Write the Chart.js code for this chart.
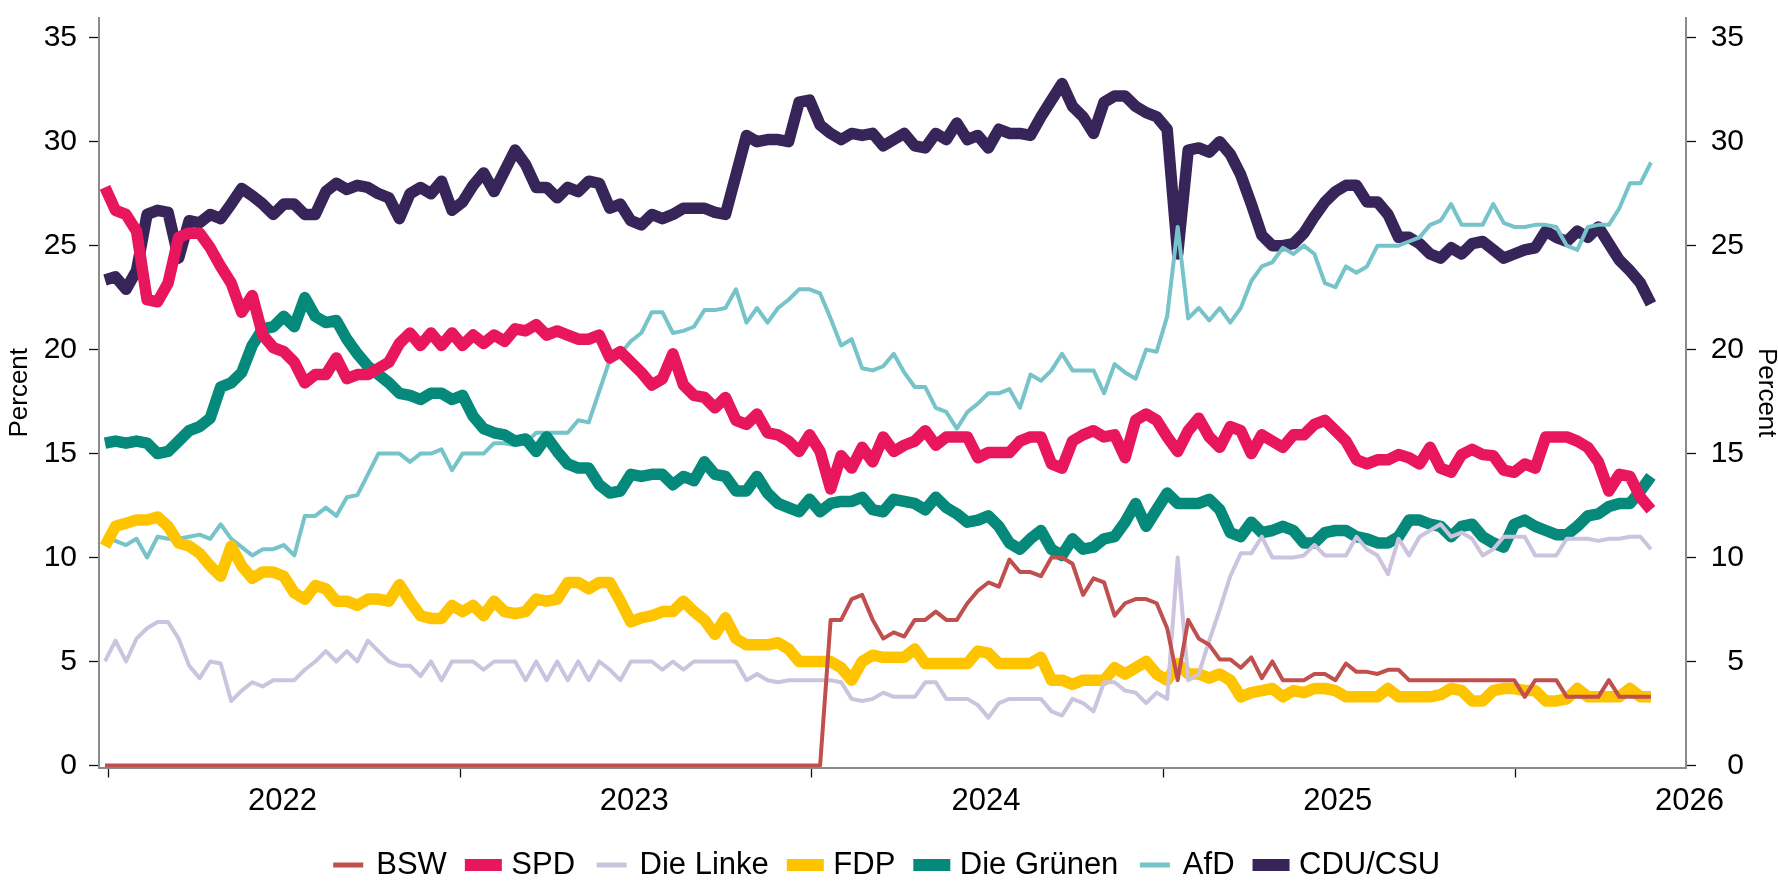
<!DOCTYPE html>
<html>
<head>
<meta charset="utf-8">
<script src="https://cdn.jsdelivr.net/npm/chart.js@4.4.1/dist/chart.umd.min.js"></script>
<style>
html,body{margin:0;padding:0;background:#ffffff;}
canvas{display:block;}
</style>
</head>
<body>
<canvas id="chart" width="1778" height="881"></canvas>
<script>
const startYear = 2021.99;
const stepYears = 0.0299;
const yearTicks = [2022, 2023, 2024, 2025, 2026];
const percentTicks = [0, 5, 10, 15, 20, 25, 30, 35];
const seriesNames = ['BSW', 'SPD', 'Die Linke', 'FDP', 'Die Grünen', 'AfD', 'CDU/CSU'];

const bsw = [
 0,0,0,0,0,0,0,0,0,0,0,0,0,0,0,0,0,0,0,0,0,0,0,0,0,0,0,0,0,0,0,0,0,0,0,0,0,0,
 0,0,0,0,0,0,0,0,0,0,0,0,0,0,0,0,0,0,0,0,0,0,0,0,0,0,0,0,0,0,0,
 7.0,7.0,8.0,8.2,7.0,6.1,6.4,
 6.2,7.0,7.0,7.4,7.0,7.0,7.8,8.4,8.8,8.6,9.9,9.3,9.3,9.1,10.0,10.0,9.7,8.2,9.0,8.8,7.2,7.8,8.0,8.0,7.8,6.6,4.1,7.0,6.1,5.8,5.1,5.1,4.7,5.2,4.2,5.0,4.1,4.1,
 4.1,4.4,4.4,4.1,4.9,4.5,4.5,4.4,4.6,4.6,4.1,4.1,4.1,4.1,4.1,4.1,4.1,4.1,4.1,4.1,4.1,3.3,4.1,4.1,4.1,3.3,3.3,3.3,3.3,4.1,3.3,3.3,3.3,3.3
];
const spd = [
 27.8,26.7,26.5,25.7,22.4,22.3,23.2,25.4,25.6,25.6,24.9,24.0,23.2,21.8,22.6,20.7,20.1,19.9,19.4,18.4,18.8,18.8,19.6,18.6,18.8,18.8,19.1,19.4,20.3,20.8,20.2,20.8,20.2,20.8,20.2,20.7,20.3,20.7,
 20.4,21.0,20.9,21.2,20.7,20.9,20.7,20.5,20.5,20.7,19.6,19.9,19.4,18.9,18.3,18.6,19.8,18.3,17.8,17.7,17.2,17.7,16.6,16.4,16.9,16.0,15.9,15.6,15.1,15.9,15.1,13.3,14.9,14.3,15.3,14.6,15.8,15.1,
 15.4,15.6,16.1,15.4,15.8,15.8,15.8,14.8,15.05,15.05,15.05,15.6,15.8,15.8,14.5,14.3,15.6,15.9,16.1,15.8,15.9,14.8,16.6,16.9,16.6,15.8,15.1,16.1,16.7,15.8,15.3,16.3,16.1,15.0,15.9,15.6,15.3,15.9,
 15.9,16.4,16.6,16.1,15.6,14.7,14.5,14.7,14.7,14.95,14.8,14.5,15.3,14.3,14.1,14.95,15.2,14.95,14.9,14.2,14.1,14.5,14.3,15.8,15.8,15.8,15.6,15.3,14.6,13.2,14.0,13.9,12.9,12.3
];
const linke = [
 5.0,6.0,5.0,6.1,6.6,6.9,6.9,6.1,4.8,4.2,5.0,4.9,3.1,3.6,4.0,3.8,4.1,4.1,4.1,4.6,5.0,5.5,5.0,5.5,5.0,6.0,5.5,5.0,4.8,4.8,4.3,5.0,4.1,5.0,5.0,5.0,4.6,5.0,
 5.0,5.0,4.1,5.0,4.1,5.0,4.1,5.0,4.1,5.0,4.6,4.1,5.0,5.0,5.0,4.6,5.0,4.6,5.0,5.0,5.0,5.0,5.0,4.1,4.4,4.1,4.0,4.1,4.1,4.1,4.1,4.1,4.0,3.2,3.1,3.2,3.5,3.3,
 3.3,3.3,4.0,4.0,3.2,3.2,3.2,2.9,2.3,3.0,3.2,3.2,3.2,3.2,2.6,2.4,3.2,3.0,2.6,4.0,4.0,3.6,3.5,3.0,3.5,3.2,10.0,4.1,4.4,6.0,7.5,9.1,10.2,10.2,11.0,10.0,10.0,10.0,
 10.1,10.6,10.1,10.1,10.1,11.0,10.4,10.1,9.2,10.9,10.1,11.0,11.3,11.6,11.0,11.2,10.9,10.1,10.4,11.0,11.0,11.0,10.1,10.1,10.1,10.9,10.9,10.9,10.8,10.9,10.9,11.0,11.0,10.4
];
const fdp = [
 10.55,11.5,11.65,11.8,11.8,11.95,11.5,10.7,10.55,10.2,9.6,9.1,10.55,9.6,9.0,9.3,9.3,9.1,8.3,8.0,8.65,8.5,7.9,7.9,7.7,8.0,8.0,7.9,8.7,7.9,7.2,7.07,7.07,7.7,7.4,7.7,7.2,7.9,
 7.4,7.3,7.4,8.0,7.9,8.0,8.8,8.8,8.5,8.8,8.8,7.9,6.9,7.1,7.2,7.4,7.4,7.9,7.4,7.0,6.3,7.1,6.1,5.8,5.8,5.8,5.9,5.6,5.0,5.0,5.0,5.0,4.7,4.1,5.0,5.3,5.2,5.2,
 5.2,5.6,4.9,4.9,4.9,4.9,4.9,5.5,5.4,4.9,4.9,4.9,4.9,5.2,4.1,4.1,3.9,4.1,4.1,4.1,4.7,4.4,4.7,5.0,4.4,4.1,4.9,4.4,4.4,4.2,4.4,4.1,3.3,3.5,3.6,3.7,3.3,3.6,
 3.5,3.7,3.7,3.6,3.3,3.3,3.3,3.3,3.7,3.3,3.3,3.3,3.3,3.4,3.7,3.6,3.1,3.1,3.6,3.7,3.7,3.6,3.6,3.1,3.1,3.2,3.7,3.3,3.3,3.3,3.3,3.7,3.3,3.3
];
const gruene = [
 15.5,15.6,15.5,15.6,15.5,15.0,15.1,15.6,16.1,16.3,16.7,18.2,18.4,18.9,20.2,21.0,21.1,21.6,21.1,22.5,21.6,21.3,21.4,20.5,19.8,19.2,18.8,18.4,17.9,17.8,17.6,17.9,17.9,17.6,17.8,16.8,16.2,16.0,
 15.9,15.6,15.7,15.1,15.8,15.1,14.5,14.3,14.3,13.5,13.1,13.2,14.0,13.9,14.0,14.0,13.5,13.9,13.7,14.6,14.0,13.9,13.2,13.2,13.9,13.1,12.6,12.4,12.2,12.8,12.2,12.6,12.7,12.7,12.9,12.3,12.2,12.8,
 12.7,12.6,12.3,12.9,12.4,12.1,11.7,11.8,12.0,11.5,10.7,10.4,10.9,11.3,10.4,10.1,10.9,10.4,10.5,10.9,11.0,11.7,12.6,11.5,12.3,13.1,12.6,12.6,12.6,12.8,12.3,11.2,11.0,11.7,11.2,11.3,11.5,11.3,
 10.7,10.7,11.2,11.3,11.3,11.0,10.9,10.7,10.7,11.0,11.8,11.8,11.6,11.5,11.0,11.5,11.6,11.0,10.7,10.5,11.6,11.8,11.5,11.3,11.1,11.1,11.5,12.0,12.1,12.45,12.6,12.6,13.2,13.9
];
const afd = [
 11.0,10.8,10.6,10.9,10.0,11.0,10.9,10.9,11.0,11.1,10.9,11.6,10.9,10.5,10.1,10.4,10.4,10.6,10.1,12.0,12.0,12.4,12.0,12.9,13.0,14.0,15.0,15.0,15.0,14.6,15.0,15.0,15.2,14.2,15.0,15.0,15.0,15.5,
 15.5,15.4,15.5,16.0,16.0,16.0,16.0,16.6,16.5,18.0,19.5,19.8,20.4,20.8,21.8,21.8,20.8,20.9,21.1,21.9,21.9,22.0,22.9,21.3,22.0,21.3,22.0,22.4,22.9,22.9,22.7,21.5,20.2,20.5,19.1,19.0,19.2,19.8,
 18.9,18.2,18.2,17.2,17.0,16.2,17.0,17.4,17.9,17.9,18.1,17.2,18.8,18.5,19.0,19.8,19.0,19.0,19.0,17.9,19.3,18.9,18.6,20.0,19.9,21.6,25.9,21.5,22.0,21.4,22.0,21.3,22.0,23.3,24.0,24.2,24.9,24.6,
 25.0,24.6,23.2,23.0,24.0,23.7,24.0,25.0,25.0,25.0,25.2,25.4,26.0,26.2,27.0,26.0,26.0,26.0,27.0,26.1,25.9,25.9,26.0,26.0,25.9,25.0,24.8,25.9,26.0,26.0,26.8,28.0,28.0,29.0
];
const cdu = [
 23.35,23.5,22.9,23.8,26.5,26.7,26.6,24.4,26.2,26.1,26.5,26.3,27.0,27.75,27.4,27.0,26.5,27.0,27.0,26.5,26.5,27.6,28.0,27.7,27.9,27.8,27.5,27.3,26.3,27.5,27.8,27.5,28.1,26.7,27.1,27.9,28.5,27.6,
 28.6,29.6,28.9,27.8,27.8,27.3,27.8,27.6,28.1,28.0,26.8,27.0,26.2,26.0,26.5,26.3,26.5,26.8,26.8,26.8,26.6,26.5,28.4,30.3,30.0,30.1,30.1,30.0,31.9,32.0,30.8,30.4,30.1,30.4,30.3,30.4,29.8,30.1,
 30.4,29.8,29.7,30.4,30.1,30.9,30.1,30.3,29.7,30.6,30.4,30.4,30.3,31.2,32.0,32.8,31.7,31.2,30.4,31.9,32.2,32.2,31.7,31.4,31.2,30.6,24.6,29.6,29.7,29.5,30.0,29.4,28.4,27.0,25.5,25.0,25.0,25.1,
 25.6,26.4,27.1,27.6,27.9,27.9,27.1,27.1,26.5,25.4,25.4,25.1,24.6,24.4,24.9,24.6,25.1,25.2,24.8,24.4,24.6,24.8,24.9,25.7,25.4,25.2,25.7,25.4,25.9,25.1,24.3,23.8,23.2,22.2
];

// ---- styles ----
const FONT = "'Liberation Sans', Arial, Helvetica, sans-serif";
const seriesValues = [bsw, spd, linke, fdp, gruene, afd, cdu];
const seriesColors = ['#C0504D', '#E8175D', '#CCC3DE', '#FFC400', '#05897A', '#76C3C9', '#37255A'];
const lineWidths = [4, 11.5, 4, 11.5, 11.5, 4, 11.5];
const legendLineWidths = [5, 12, 5, 12, 12, 5, 12];

const datasets = seriesValues.map((vals, i) => ({
  label: seriesNames[i],
  data: vals.map((v, j) => ({ x: startYear + j * stepYears, y: v })),
  borderColor: seriesColors[i],
  backgroundColor: seriesColors[i],
  borderWidth: lineWidths[i],
  pointRadius: 0,
  pointHoverRadius: 0,
  tension: 0,
  fill: false,
  borderJoinStyle: 'round',
  borderCapStyle: 'butt'
}));

const axisBorder = { display: true, color: '#8c8c8c', width: 2 };
const tickGrid = { drawOnChartArea: false, drawTicks: true, tickLength: 10, tickColor: '#111', tickWidth: 1.3 };
const setPercentTicks = s => { s.ticks = percentTicks.map(v => ({ value: v })); };

new Chart(document.getElementById('chart'), {
  type: 'line',
  data: { datasets },
  options: {
    responsive: false,
    animation: false,
    devicePixelRatio: 1,
    layout: { padding: { left: 32, right: 34, top: 7, bottom: -9.5 } },
    plugins: {
      tooltip: { enabled: false },
      legend: {
        position: 'bottom',
        align: 'center',
        labels: {
          usePointStyle: true,
          pointStyle: 'line',
          pointStyleWidth: 25,
          padding: 24,
          color: '#000',
          font: { family: FONT, size: 31 },
          generateLabels: chart => chart.data.datasets.map((d, i) => ({
            text: d.label,
            fillStyle: d.borderColor,
            strokeStyle: d.borderColor,
            lineWidth: legendLineWidths[i],
            lineCap: 'square',
            pointStyle: 'line',
            hidden: false,
            datasetIndex: i
          }))
        }
      }
    },
    scales: {
      x: {
        type: 'linear',
        position: 'bottom',
        min: 2021.973,
        max: 2026.485,
        afterBuildTicks: s => { s.ticks = yearTicks.map(v => ({ value: v })); },
        afterFit: s => { s.height = 58; },
        ticks: {
          autoSkip: false, maxRotation: 0, minRotation: 0,
          labelOffset: 174, padding: 5,
          color: '#000', font: { family: FONT, size: 31 },
          callback: v => String(v)
        },
        grid: tickGrid,
        border: axisBorder
      },
      y: {
        position: 'left',
        min: -0.1,
        max: 35.95,
        afterBuildTicks: setPercentTicks,
        afterFit: s => { s.width = 67; },
        ticks: { padding: 12, color: '#000', font: { family: FONT, size: 30, lineHeight: 0.4 } },
        grid: tickGrid,
        border: axisBorder,
        title: { display: true, text: 'Percent', color: '#000', font: { family: FONT, size: 26, lineHeight: 1 }, padding: { top: -25, bottom: 0 } }
      },
      y2: {
        position: 'right',
        min: -0.1,
        max: 35.95,
        afterBuildTicks: setPercentTicks,
        afterFit: s => { s.width = 58; },
        ticks: { padding: 12, crossAlign: 'far', color: '#000', font: { family: FONT, size: 30, lineHeight: 0.4 } },
        grid: tickGrid,
        border: axisBorder,
        title: { display: true, text: 'Percent', color: '#000', font: { family: FONT, size: 26, lineHeight: 1 }, padding: { top: -35, bottom: 0 } }
      }
    }
  }
});
</script>
</body>
</html>
